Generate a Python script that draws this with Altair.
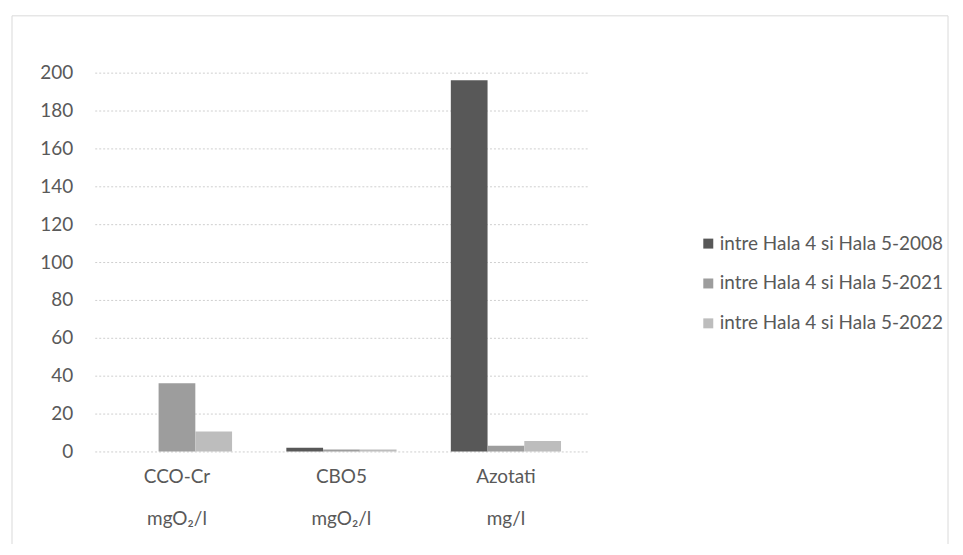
import altair as alt
import pandas as pd

categories = ["CCO-Cr\nmgO₂/l", "CBO5\nmgO₂/l", "Azotati\nmg/l"]
series = ["intre Hala 4 si Hala 5-2008", "intre Hala 4 si Hala 5-2021", "intre Hala 4 si Hala 5-2022"]
values_2008 = [0, 2, 196]
values_2021 = [36, 1, 3]
values_2022 = [10.5, 1, 5.5]
y_ticks = [0, 20, 40, 60, 80, 100, 120, 140, 160, 180, 200]

rows = []
for s, vals in zip(series, [values_2008, values_2021, values_2022]):
    for c, v in zip(categories, vals):
        rows.append({"cat": c, "series": s, "value": v})
df = pd.DataFrame(rows)

font = "Lato"
txt = "#595959"

bars = alt.Chart(df).mark_bar().encode(
    x=alt.X("cat:N", sort=categories, title=None,
            scale=alt.Scale(paddingInner=0.33, paddingOuter=0.165),
            axis=alt.Axis(labelExpr="split(datum.label, '\\n')", labelAngle=0,
                          labelFontSize=19, labelColor=txt, labelFont=font,
                          labelPadding=16, labelLineHeight=42,
                          ticks=False, domain=False, grid=False)),
    xOffset=alt.XOffset("series:N", sort=series),
    y=alt.Y("value:Q", title=None,
            scale=alt.Scale(domain=[0, 200], nice=False),
            axis=alt.Axis(values=y_ticks, labelFontSize=19, labelColor=txt,
                          labelFont=font, labelPadding=22, ticks=False,
                          domain=False, gridColor="#cfcfcf", gridDash=[2, 2],
                          gridWidth=1)),
    color=alt.Color("series:N", sort=series, title=None,
                    scale=alt.Scale(domain=series, range=["#585858", "#9d9d9d", "#bdbdbd"]),
                    legend=alt.Legend(orient="none", legendX=606, legendY=162,
                                      symbolType="square", symbolSize=100,
                                      symbolStrokeWidth=0,
                                      labelFontSize=19, labelColor=txt, labelFont=font,
                                      labelLimit=400, rowPadding=20, labelOffset=2)),
)

frame = alt.Chart(pd.DataFrame({"a": [0]})).mark_rect(
    fill=None, stroke="#dadada", strokeWidth=1, clip=False
).encode(x=alt.value(-83), x2=alt.value(856), y=alt.value(-57), y2=alt.value(480))

chart = alt.layer(frame, bars).properties(
    width=495, height=380,
    autosize=alt.AutoSizeParams(type="none"),
    padding={"left": 87, "top": 64, "right": 368, "bottom": 92},
    background="white",
).configure_view(stroke=None)

chart.save("out.html", embed_options={"renderer": "svg", "actions": False})
